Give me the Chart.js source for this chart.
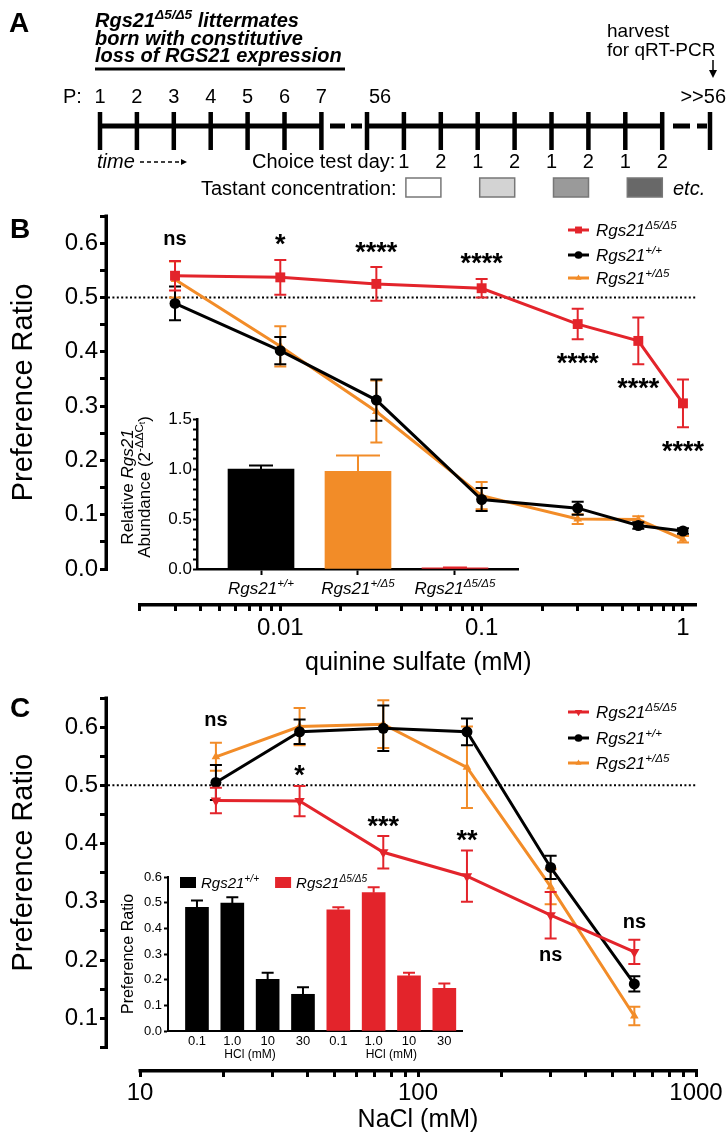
<!DOCTYPE html>
<html>
<head>
<meta charset="utf-8">
<title>Rgs21 taste preference</title>
<script src="https://cdn.jsdelivr.net/npm/chart.js@4.4.1/dist/chart.umd.min.js"></script>
<style>
  body { margin: 0; background: #fff; }
  #figure { position: relative; width: 728px; height: 1139px; overflow: hidden; background: #fff; }
  #figure canvas { position: absolute; }
</style>
</head>
<body>
<div id="figure">
  <canvas id="timeline" width="728" height="200" style="left:0;top:0"></canvas>
  <canvas id="quinine" width="728" height="480" style="left:0;top:200px"></canvas>
  <canvas id="qpcr" width="440" height="205" style="left:100px;top:400px"></canvas>
  <canvas id="nacl" width="728" height="459" style="left:0;top:680px"></canvas>
  <canvas id="hcl" width="370" height="205" style="left:110px;top:860px"></canvas>
</div>
<script>
const FONT = '"Liberation Sans", Arial, Helvetica, sans-serif'
const RED = '#e3242b'
const ORANGE = '#f28c28'
const BLACK = '#000000'

// genotype names: [base, superscript]
const koName = ['Rgs21', 'Δ5/Δ5']
const wtName = ['Rgs21', '+/+']
const hetName = ['Rgs21', '+/Δ5']

// ---- B: quinine sulfate preference
const quinineMM = [0.003, 0.01, 0.03, 0.1, 0.3, 0.6, 1]
const quinineKO = [0.540, 0.537, 0.525, 0.517, 0.451, 0.420, 0.305]
const quinineKOErr = [0.027, 0.032, 0.031, 0.017, 0.028, 0.043, 0.044]
const quinineWT = [0.489, 0.402, 0.311, 0.128, 0.112, 0.080, 0.070]
const quinineWTErr = [0.031, 0.025, 0.038, 0.021, 0.012, 0.006, 0.005]
const quinineHet = [0.533, 0.410, 0.290, 0.135, 0.092, 0.091, 0.055]
const quinineHetErr = [0.033, 0.037, 0.057, 0.025, 0.009, 0.006, 0.006]
const quinineSig = ['ns', '*', '****', '****', '****', '****', '****']
const quinineSigSide = ['top', 'top', 'top', 'top', 'below', 'below', 'below']
const quinineXTicks = [0.01, 0.1, 1]
const quinineXLabels = ['0.01', '0.1', '1']

// inset B: qRT-PCR
const genotypes = [wtName, hetName, koName]
const rgs21Abundance = [1.00, 0.976, 0.012]
const rgs21AbundanceErr = [0.035, 0.16, 0.004]
const abundanceTicks = [0, 0.5, 1.0, 1.5]
const abundanceLabels = ['0.0', '0.5', '1.0', '1.5']

// ---- C: NaCl preference
const naclMM = [18.75, 37.5, 75, 150, 300, 600]
const naclKO = [0.474, 0.473, 0.385, 0.344, 0.277, 0.214]
const naclKOErr = [0.022, 0.026, 0.028, 0.044, 0.040, 0.021]
const naclWT = [0.505, 0.592, 0.598, 0.592, 0.359, 0.159]
const naclWTErr = [0.030, 0.021, 0.039, 0.023, 0.020, 0.013]
const naclHet = [0.549, 0.601, 0.605, 0.531, 0.326, 0.104]
const naclHetErr = [0.024, 0.032, 0.041, 0.070, 0.030, 0.016]
const naclSig = ['ns', '*', '***', '**', 'ns', 'ns']
const naclSigSide = ['top', 'above', 'above', 'above', 'below', 'above']
const naclXTicks = [10, 100, 1000]
const naclXLabels = ['10', '100', '1000']

// inset C: HCl
const hclMM = ['0.1', '1.0', '10', '30']
const hclWT = [0.482, 0.498, 0.201, 0.143]
const hclWTErr = [0.026, 0.023, 0.026, 0.027]
const hclKO = [0.472, 0.539, 0.215, 0.166]
const hclKOErr = [0.010, 0.021, 0.012, 0.019]

const prefTicks = [0, 0.1, 0.2, 0.3, 0.4, 0.5, 0.6]
const prefLabels = ['0.0', '0.1', '0.2', '0.3', '0.4', '0.5', '0.6']

// ---- helpers
function stepTicks(lo, hi, step) {
  const n = Math.round((hi - lo) / step)
  return Array.from({ length: n + 1 }, (_, i) => +(lo + i * step).toFixed(4))
}

function logTicks(lo, hi) {
  const out = []
  for (let e = Math.floor(Math.log10(lo)); e <= Math.ceil(Math.log10(hi)); e++) {
    for (let k = 1; k <= 9; k++) {
      const v = k * Math.pow(10, e)
      if (v >= lo * 0.999 && v <= hi * 1.001) out.push(v)
    }
  }
  return out
}

function labelFor(value, ticks, labels) {
  const i = ticks.findIndex(t => Math.abs(t - value) <= 1e-6 * Math.max(Math.abs(t), 1e-3))
  return i < 0 ? '' : labels[i]
}

// text with superscripts: parts = [{t, s (style), k (scale), r (rise)}]
function rich(ctx, parts, x, y, size, align, base) {
  const fontOf = p => `${p.s || base || 'normal'} ${(size * (p.k || 1)).toFixed(1)}px ${FONT}`
  const widths = parts.map(p => { ctx.font = fontOf(p); return ctx.measureText(p.t).width })
  const total = widths.reduce((a, b) => a + b, 0)
  let cx = align === 'center' ? x - total / 2 : align === 'right' ? x - total : x
  ctx.textAlign = 'left'
  ctx.textBaseline = 'alphabetic'
  parts.forEach((p, i) => {
    ctx.font = fontOf(p)
    ctx.fillText(p.t, cx, y - (p.r || 0) * size)
    cx += widths[i]
  })
  return total
}

function nameParts(name) {
  return [{ t: name[0], s: 'italic' }, { t: name[1], s: 'italic', k: 0.68, r: 0.42 }]
}

function rotated(ctx, x, y, fn) {
  ctx.save()
  ctx.translate(x, y)
  ctx.rotate(-Math.PI / 2)
  fn()
  ctx.restore()
}

function marker(ctx, style, r, rot, x, y) {
  ctx.save()
  ctx.translate(x, y)
  ctx.rotate((rot || 0) * Math.PI / 180)
  ctx.beginPath()
  if (style === 'rect') {
    const h = r * Math.SQRT1_2
    ctx.rect(-h, -h, 2 * h, 2 * h)
  } else if (style === 'triangle') {
    ctx.moveTo(0, -r)
    ctx.lineTo(r * 0.866, r * 0.5)
    ctx.lineTo(-r * 0.866, r * 0.5)
    ctx.closePath()
  } else {
    ctx.arc(0, 0, r, 0, Math.PI * 2)
  }
  ctx.fill()
  ctx.restore()
}

// error bars drawn under each dataset, from the dataset's own scale
const errorBars = {
  id: 'errorBars',
  beforeDatasetDraw(chart, args) {
    const ds = chart.data.datasets[args.index]
    if (!ds.errors) return
    const ctx = chart.ctx
    const ys = chart.scales.y
    ctx.save()
    ctx.lineWidth = ds.errWidth || 2
    args.meta.data.forEach((el, i) => {
      const v = ds.data[i].y
      const e = ds.errors[i]
      const cap = Array.isArray(ds.errCap) ? ds.errCap[i] : ds.errCap
      const col = Array.isArray(ds.errColor) ? ds.errColor[i] : (ds.errColor || ds.borderColor)
      const top = ys.getPixelForValue(v + e)
      const bot = ds.errUp ? el.y : ys.getPixelForValue(v - e)
      ctx.strokeStyle = col
      ctx.beginPath()
      ctx.moveTo(el.x, top)
      ctx.lineTo(el.x, bot)
      ctx.moveTo(el.x - cap, top)
      ctx.lineTo(el.x + cap, top)
      if (!ds.errUp) {
        ctx.moveTo(el.x - cap, bot)
        ctx.lineTo(el.x + cap, bot)
      }
      ctx.stroke()
    })
    ctx.restore()
  }
}

function makeDecor(o) {
  return {
    id: 'decor',
    beforeDatasetsDraw(chart) {
      const { ctx, chartArea } = chart
      const py = chart.scales.y.getPixelForValue(0.5)
      ctx.save()
      ctx.strokeStyle = '#000'
      ctx.lineWidth = 2
      ctx.setLineDash([2, 2.4])
      ctx.beginPath()
      ctx.moveTo(chartArea.left, py)
      ctx.lineTo(chartArea.right, py)
      ctx.stroke()
      ctx.restore()
    },
    afterDraw(chart) {
      const { ctx, chartArea } = chart
      const x = chart.scales.x
      const y = chart.scales.y
      const yTop = y.getPixelForValue(o.yAxis[1])
      const yBot = y.getPixelForValue(o.yAxis[0])
      const xLeft = x.getPixelForValue(o.xAxisFrom)
      ctx.save()
      ctx.strokeStyle = '#000'
      ctx.fillStyle = '#000'
      ctx.lineWidth = 3.5
      ctx.beginPath()
      ctx.moveTo(chartArea.left - 1.75, yTop - 1.5)
      ctx.lineTo(chartArea.left - 1.75, yBot + 1.5)
      ctx.moveTo(xLeft - 1.5, chartArea.bottom + 1.75)
      ctx.lineTo(chartArea.right, chartArea.bottom + 1.75)
      ctx.stroke()

      // titles and panel letter
      ctx.font = `25px ${FONT}`
      ctx.textAlign = 'center'
      ctx.textBaseline = 'alphabetic'
      ctx.fillText(o.xTitle, (xLeft + chartArea.right) / 2, o.xTitleY)
      rotated(ctx, 32, (yTop + yBot) / 2 + o.yTitleShift, () => {
        ctx.font = `29px ${FONT}`
        ctx.textAlign = 'center'
        ctx.fillText('Preference Ratio', 0, 0)
      })
      ctx.font = `bold 28px ${FONT}`
      ctx.textAlign = 'left'
      ctx.fillText(o.letter, 10, o.letterY)

      // significance labels, placed against the error bars
      const red = o.series[0]
      o.sig.forEach((txt, i) => {
        const px = x.getPixelForValue(o.x[i])
        let cy
        if (o.sigSide[i] === 'below') cy = y.getPixelForValue(red.y[i] - red.err[i]) + 17
        else if (o.sigSide[i] === 'above') cy = y.getPixelForValue(red.y[i] + red.err[i]) - 17
        else cy = Math.min(...o.series.map(s => y.getPixelForValue(s.y[i] + s.err[i]))) - 22
        const star = txt[0] === '*'
        ctx.font = `bold ${star ? 27 : 20}px ${FONT}`
        ctx.textAlign = 'center'
        ctx.fillText(txt, px, cy + (star ? 15.5 : 5.5))
      })

      // legend
      o.series.forEach((s, i) => {
        const ly = o.legendY[i]
        ctx.strokeStyle = s.color
        ctx.fillStyle = s.color
        ctx.lineWidth = 3
        ctx.beginPath()
        ctx.moveTo(o.legendX, ly)
        ctx.lineTo(o.legendX + 21, ly)
        ctx.stroke()
        marker(ctx, s.marker, s.radius * 0.7, s.rotation, o.legendX + 10.5, ly)
        ctx.fillStyle = '#000'
        rich(ctx, nameParts(s.name), o.legendX + 28, ly + 6, 17, 'left')
      })
      ctx.restore()
    }
  }
}

function preferenceChart(id, o) {
  const tickFont = { family: FONT, size: 24 }
  return new Chart(document.getElementById(id), {
    type: 'line',
    data: {
      datasets: o.series.map(s => ({
        label: s.name.join(''),
        data: o.x.map((xv, i) => ({ x: xv, y: s.y[i] })),
        errors: s.err,
        errCap: 6,
        borderColor: s.color,
        backgroundColor: s.color,
        borderWidth: 3,
        pointStyle: s.marker,
        pointRadius: s.radius,
        pointRotation: s.rotation || 0,
        pointBorderWidth: 0,
        tension: 0
      }))
    },
    options: {
      responsive: false,
      animation: false,
      devicePixelRatio: 1,
      events: [],
      layout: { padding: { top: o.padTop, right: o.padRight, left: 0, bottom: 0 } },
      plugins: { legend: { display: false }, tooltip: { enabled: false } },
      scales: {
        x: {
          type: 'logarithmic',
          min: o.xMin,
          max: o.xMax,
          afterBuildTicks: s => { s.ticks = logTicks(o.xAxisFrom, o.xAxisTo).map(v => ({ value: v })) },
          afterFit: s => { s.height = o.xAxisHeight },
          border: { display: false },
          grid: { drawOnChartArea: false, offset: false, tickLength: 8, tickWidth: 3, tickColor: '#000' },
          ticks: {
            autoSkip: false, maxRotation: 0, padding: o.xPad, color: '#000', font: tickFont,
            callback: v => labelFor(v, o.xTicks, o.xLabels)
          }
        },
        y: {
          min: o.yMin,
          max: o.yMax,
          afterBuildTicks: s => { s.ticks = stepTicks(o.yAxis[0], o.yAxis[1], 0.05).map(v => ({ value: v })) },
          afterFit: s => { s.width = 108 },
          border: { display: false },
          grid: { drawOnChartArea: false, tickLength: 8, tickWidth: 3, tickColor: '#000' },
          ticks: {
            autoSkip: false, padding: 2, color: '#000', font: { family: FONT, size: 24, lineHeight: 1 },
            callback: v => labelFor(v, prefTicks, prefLabels)
          }
        }
      }
    },
    plugins: [errorBars, makeDecor(o)]
  })
}

// ---- panel A: experimental timeline (plain canvas)
const postnatalDays = ['1', '2', '3', '4', '5', '6', '7']
const choiceDays = ['1', '2', '1', '2', '1', '2', '1', '2']
const tastantShades = ['#ffffff', '#d3d3d3', '#9a9a9a', '#686868']

function drawTimeline() {
  const ctx = document.getElementById('timeline').getContext('2d')
  ctx.fillStyle = '#000'
  ctx.strokeStyle = '#000'
  ctx.font = `bold 28px ${FONT}`
  ctx.textBaseline = 'alphabetic'
  ctx.fillText('A', 9, 32)

  rich(ctx, [{ t: 'Rgs21' }, { t: 'Δ5/Δ5', k: 0.68, r: 0.42 }, { t: ' littermates' }], 95, 27, 20, 'left', 'italic bold')
  rich(ctx, [{ t: 'born with constitutive' }], 95, 45, 20, 'left', 'italic bold')
  rich(ctx, [{ t: 'loss of RGS21 expression' }], 95, 62, 20, 'left', 'italic bold')
  ctx.fillRect(95, 67.5, 250, 3)

  const earlyX = postnatalDays.map((d, i) => 100 + i * 36.9)
  const adultX = choiceDays.map((d, i) => 367 + (i + 1) * 36.9)
  const lineY = 126

  // main bar with dashed breaks
  ctx.lineWidth = 5
  ctx.beginPath()
  ctx.moveTo(earlyX[0], lineY); ctx.lineTo(earlyX[6], lineY)
  ctx.moveTo(367, lineY); ctx.lineTo(adultX[7], lineY)
  ctx.moveTo(330, lineY); ctx.lineTo(345, lineY)
  ctx.moveTo(351, lineY); ctx.lineTo(362, lineY)
  ctx.moveTo(673, lineY); ctx.lineTo(690, lineY)
  ctx.moveTo(697, lineY); ctx.lineTo(707, lineY)
  ctx.stroke()
  ctx.lineWidth = 4.5
  ctx.beginPath()
  earlyX.concat([367], adultX, [710]).forEach(px => { ctx.moveTo(px, 112); ctx.lineTo(px, 150) })
  ctx.stroke()

  ctx.font = `20px ${FONT}`
  ctx.textAlign = 'left'
  ctx.fillText('P:', 63, 103)
  ctx.textAlign = 'center'
  postnatalDays.forEach((d, i) => ctx.fillText(d, earlyX[i], 103))
  ctx.textAlign = 'left'
  ctx.fillText('56', 369, 103)
  ctx.textAlign = 'right'
  ctx.fillText('>>56', 726, 103)

  ctx.font = `19px ${FONT}`
  ctx.textAlign = 'left'
  ctx.fillText('harvest', 607, 37)
  ctx.fillText('for qRT-PCR', 607, 56)
  ctx.lineWidth = 1.5
  ctx.beginPath(); ctx.moveTo(713, 60); ctx.lineTo(713, 75); ctx.stroke()
  ctx.beginPath(); ctx.moveTo(709, 70); ctx.lineTo(713, 78); ctx.lineTo(717, 70); ctx.closePath(); ctx.fill()

  ctx.font = `italic 20px ${FONT}`
  ctx.fillText('time', 97, 168)
  ctx.setLineDash([4, 3])
  ctx.beginPath(); ctx.moveTo(140, 162); ctx.lineTo(182, 162); ctx.stroke()
  ctx.setLineDash([])
  ctx.beginPath(); ctx.moveTo(181, 159); ctx.lineTo(187, 162); ctx.lineTo(181, 165); ctx.closePath(); ctx.fill()

  ctx.font = `20px ${FONT}`
  ctx.fillText('Choice test day:', 252, 168)
  ctx.textAlign = 'center'
  choiceDays.forEach((d, i) => ctx.fillText(d, adultX[i], 168))
  ctx.textAlign = 'left'
  ctx.fillText('Tastant concentration:', 201, 195)
  ctx.lineWidth = 1.5
  tastantShades.forEach((c, i) => {
    const bx = adultX[i * 2] + 2
    ctx.fillStyle = c
    ctx.fillRect(bx, 178, 35, 19)
    ctx.strokeStyle = '#777'
    ctx.strokeRect(bx, 178, 35, 19)
  })
  ctx.fillStyle = '#000'
  ctx.font = `italic 20px ${FONT}`
  ctx.fillText('etc.', 673, 195)
}

drawTimeline()

// ---- panel B
preferenceChart('quinine', {
  x: quinineMM,
  series: [
    { name: koName, y: quinineKO, err: quinineKOErr, color: RED, marker: 'rect', radius: 7 },
    { name: wtName, y: quinineWT, err: quinineWTErr, color: BLACK, marker: 'circle', radius: 5.5 },
    { name: hetName, y: quinineHet, err: quinineHetErr, color: ORANGE, marker: 'triangle', radius: 5 }
  ],
  sig: quinineSig, sigSide: quinineSigSide,
  xMin: 0.001394, xMax: 1.174, xAxisFrom: 0.002, xAxisTo: 1,
  xTicks: quinineXTicks, xLabels: quinineXLabels,
  yMin: -0.0626, yMax: 0.65, yAxis: [0, 0.65],
  padTop: 16, padRight: 31, xAxisHeight: 77, xPad: 3,
  xTitle: 'quinine sulfate (mM)', xTitleY: 470, yTitleShift: 0,
  letter: 'B', letterY: 38,
  legendX: 568, legendY: [30, 55, 78]
})

// inset B: Rgs21 transcript abundance
new Chart(document.getElementById('qpcr'), {
  type: 'bar',
  data: {
    datasets: [{
      data: genotypes.map((g, i) => ({ x: i, y: rgs21Abundance[i] })),
      errors: rgs21AbundanceErr,
      errUp: true,
      errCap: [12, 22, 12],
      errColor: [BLACK, ORANGE, RED],
      backgroundColor: [BLACK, ORANGE, RED],
      barThickness: 66,
      grouped: false
    }]
  },
  options: {
    responsive: false, animation: false, devicePixelRatio: 1, events: [],
    layout: { padding: { top: 19, right: 22, left: 0, bottom: 0 } },
    plugins: { legend: { display: false }, tooltip: { enabled: false } },
    scales: {
      x: {
        type: 'linear', min: -0.66, max: 2.65, offset: false,
        afterBuildTicks: s => { s.ticks = genotypes.map((g, i) => ({ value: i })) },
        afterFit: s => { s.height = 36 },
        border: { display: true, width: 2.5, color: '#000' },
        grid: { drawOnChartArea: false, offset: false, tickLength: 6, tickWidth: 2, tickColor: '#000' },
        ticks: { autoSkip: false, maxRotation: 0, callback: () => '' }
      },
      y: {
        min: 0, max: 1.5,
        afterBuildTicks: s => { s.ticks = stepTicks(0, 1.5, 0.1).map(v => ({ value: v })) },
        afterFit: s => { s.width = 97 },
        border: { display: true, width: 2.5, color: '#000' },
        grid: { drawOnChartArea: false, tickLength: 4, tickWidth: 2, tickColor: '#000' },
        ticks: {
          autoSkip: false, padding: 1, color: '#000', font: { family: FONT, size: 17, lineHeight: 1 },
          callback: v => labelFor(v, abundanceTicks, abundanceLabels)
        }
      }
    }
  },
  plugins: [errorBars, {
    id: 'qpcrText',
    afterDraw(chart) {
      const ctx = chart.ctx
      const xs = chart.scales.x
      ctx.save()
      ctx.fillStyle = '#000'
      genotypes.forEach((g, i) => rich(ctx, nameParts(g), xs.getPixelForValue(i), 194, 17, 'center'))
      rotated(ctx, 33, 87, () => rich(ctx, [{ t: 'Relative ' }, { t: 'Rgs21', s: 'italic' }], 0, 0, 17, 'center'))
      rotated(ctx, 50, 87, () => rich(ctx, [
        { t: 'Abundance (2' }, { t: '-ΔΔC', k: 0.68, r: 0.42 }, { t: 't', k: 0.5, r: 0.3 }, { t: ')' }
      ], 0, 0, 17, 'center'))
      ctx.restore()
    }
  }]
})

// ---- panel C
preferenceChart('nacl', {
  x: naclMM,
  series: [
    { name: koName, y: naclKO, err: naclKOErr, color: RED, marker: 'triangle', radius: 6, rotation: 180 },
    { name: wtName, y: naclWT, err: naclWTErr, color: BLACK, marker: 'circle', radius: 5.5 },
    { name: hetName, y: naclHet, err: naclHetErr, color: ORANGE, marker: 'triangle', radius: 5 }
  ],
  sig: naclSig, sigSide: naclSigSide,
  xMin: 7.67, xMax: 1000, xAxisFrom: 10, xAxisTo: 1000,
  xTicks: naclXTicks, xLabels: naclXLabels,
  yMin: 0.0129, yMax: 0.65, yAxis: [0.05, 0.65],
  padTop: 18, padRight: 32, xAxisHeight: 70, xPad: 2,
  xTitle: 'NaCl (mM)', xTitleY: 447, yTitleShift: -10,
  letter: 'C', letterY: 37,
  legendX: 568, legendY: [32, 58, 83]
})

// inset C: HCl preference
new Chart(document.getElementById('hcl'), {
  type: 'bar',
  data: {
    datasets: [
      {
        data: hclMM.map((c, i) => ({ x: i, y: hclWT[i] })),
        errors: hclWTErr, errUp: true, errCap: 6, errColor: BLACK,
        backgroundColor: BLACK, barThickness: 23, grouped: false
      },
      {
        data: hclMM.map((c, i) => ({ x: i + hclMM.length, y: hclKO[i] })),
        errors: hclKOErr, errUp: true, errCap: 6, errColor: RED,
        backgroundColor: RED, barThickness: 23, grouped: false
      }
    ]
  },
  options: {
    responsive: false, animation: false, devicePixelRatio: 1, events: [],
    layout: { padding: { top: 17, right: 18, left: 0, bottom: 0 } },
    plugins: { legend: { display: false }, tooltip: { enabled: false } },
    scales: {
      x: {
        type: 'linear', min: -0.82, max: 7.5, offset: false,
        afterFit: s => { s.height = 34 },
        border: { display: true, width: 2, color: '#000' },
        grid: { display: false },
        ticks: { display: false }
      },
      y: {
        min: 0, max: 0.6,
        afterBuildTicks: s => { s.ticks = prefTicks.map(v => ({ value: v })) },
        afterFit: s => { s.width = 58 },
        border: { display: true, width: 2, color: '#000' },
        grid: { drawOnChartArea: false, tickLength: 4, tickWidth: 2, tickColor: '#000' },
        ticks: {
          autoSkip: false, padding: 2, color: '#000', font: { family: FONT, size: 13, lineHeight: 1 },
          callback: v => labelFor(v, prefTicks, prefLabels)
        }
      }
    }
  },
  plugins: [errorBars, {
    id: 'hclText',
    afterDraw(chart) {
      const ctx = chart.ctx
      const xs = chart.scales.x
      ctx.save()
      ctx.fillStyle = '#000'
      ctx.font = `13px ${FONT}`
      ctx.textAlign = 'center'
      ctx.textBaseline = 'alphabetic'
      chart.data.datasets.forEach(ds => ds.data.forEach((d, i) => ctx.fillText(hclMM[i], xs.getPixelForValue(d.x), 185)))
      ctx.font = `12px ${FONT}`
      ctx.fillText('HCl (mM)', xs.getPixelForValue(1.5), 198)
      ctx.fillText('HCl (mM)', xs.getPixelForValue(5.5), 198)
      rotated(ctx, 23, 94, () => {
        ctx.font = `16px ${FONT}`
        ctx.textAlign = 'center'
        ctx.fillText('Preference Ratio', 0, 0)
      })
      // legend
      let lx = 70
      ;[[BLACK, wtName], [RED, koName]].forEach(([col, name]) => {
        ctx.fillStyle = col
        ctx.fillRect(lx, 17, 16, 11)
        lx += 21
        ctx.fillStyle = '#000'
        lx += rich(ctx, nameParts(name), lx, 28, 15, 'left') + 16
      })
      ctx.restore()
    }
  }]
})
</script>
</body>
</html>
